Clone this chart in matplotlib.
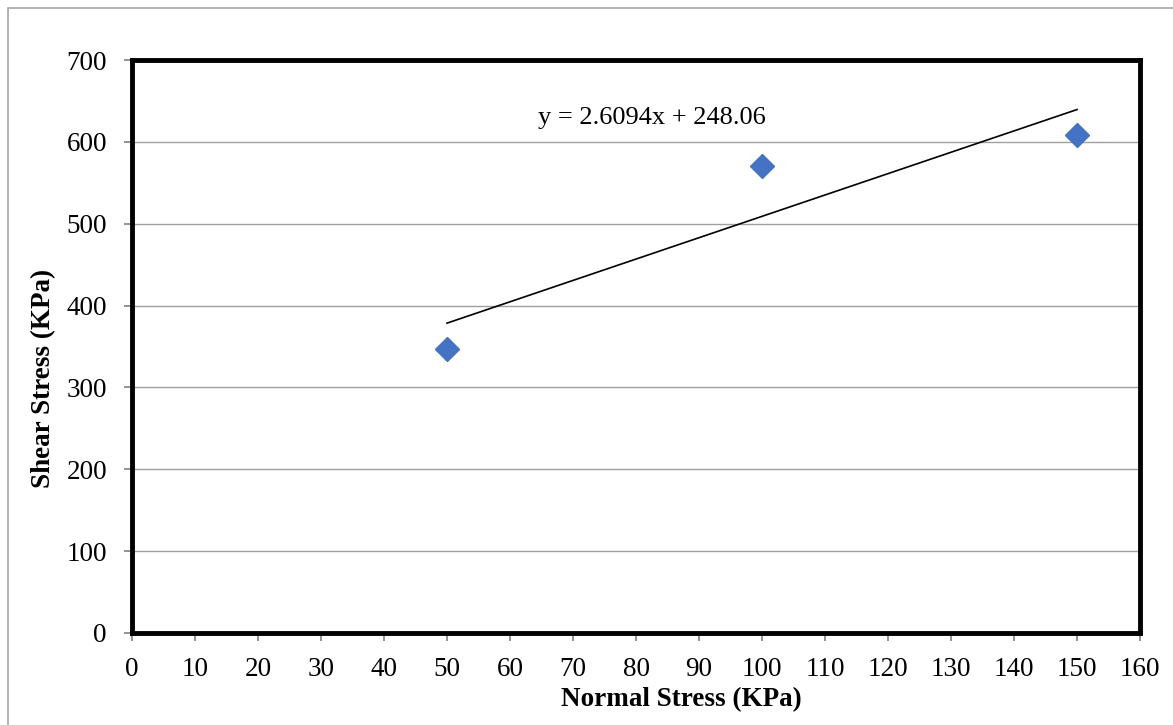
import matplotlib.pyplot as plt
from matplotlib.patches import Rectangle

# data
normal_stress = [50, 100, 150]
shear_stress = [347.5, 571.1, 608.4]
slope = 2.6094
intercept = 248.06

plt.rcParams['font.family'] = ['Liberation Serif', 'DejaVu Serif']

fig = plt.figure(figsize=(11.73, 7.25), dpi=100)
ax = fig.add_axes([132/1173, 1 - 633/725, (1140 - 132)/1173, (633 - 60)/725])

# outer chart border
fig.patches.append(Rectangle((8/1173, -0.01), 1.02, 1 - 8/725 + 0.01,
                             transform=fig.transFigure, fill=False,
                             edgecolor='#a6a6a6', linewidth=1.2))

ax.set_xlim(0, 160)
ax.set_ylim(0, 700)
ax.set_xticks(range(0, 161, 10))
ax.set_yticks(range(0, 701, 100))
ax.yaxis.grid(True, color='#a0a0a0', linewidth=1)
ax.set_axisbelow(True)

for s in ax.spines.values():
    s.set_linewidth(3.5)
    s.set_color('black')

ax.tick_params(axis='both', direction='out', length=6, width=1.2,
               color='#808080', labelsize=19.5)
ax.tick_params(axis='x', pad=11)
ax.tick_params(axis='y', pad=12)

# trendline over the data range
tx = [min(normal_stress), max(normal_stress)]
ty = [slope * v + intercept for v in tx]
ax.plot(tx, ty, color='black', linewidth=1.2)

ax.plot(normal_stress, shear_stress, linestyle='none', marker='D',
        markersize=12, color='#4472c4', zorder=5)

ax.text(82.5, 629, f'y = {slope}x + {intercept}', fontsize=19,
        ha='center', va='center')

ax.set_xlabel('Normal Stress (KPa)', fontsize=19.5, fontweight='bold')
ax.set_ylabel('Shear Stress (KPa)', fontsize=19.5, fontweight='bold')
ax.xaxis.set_label_coords(0.545, -0.095)
ax.yaxis.set_label_coords(-0.075, 0.445)

fig.savefig('out.png', dpi=100)
